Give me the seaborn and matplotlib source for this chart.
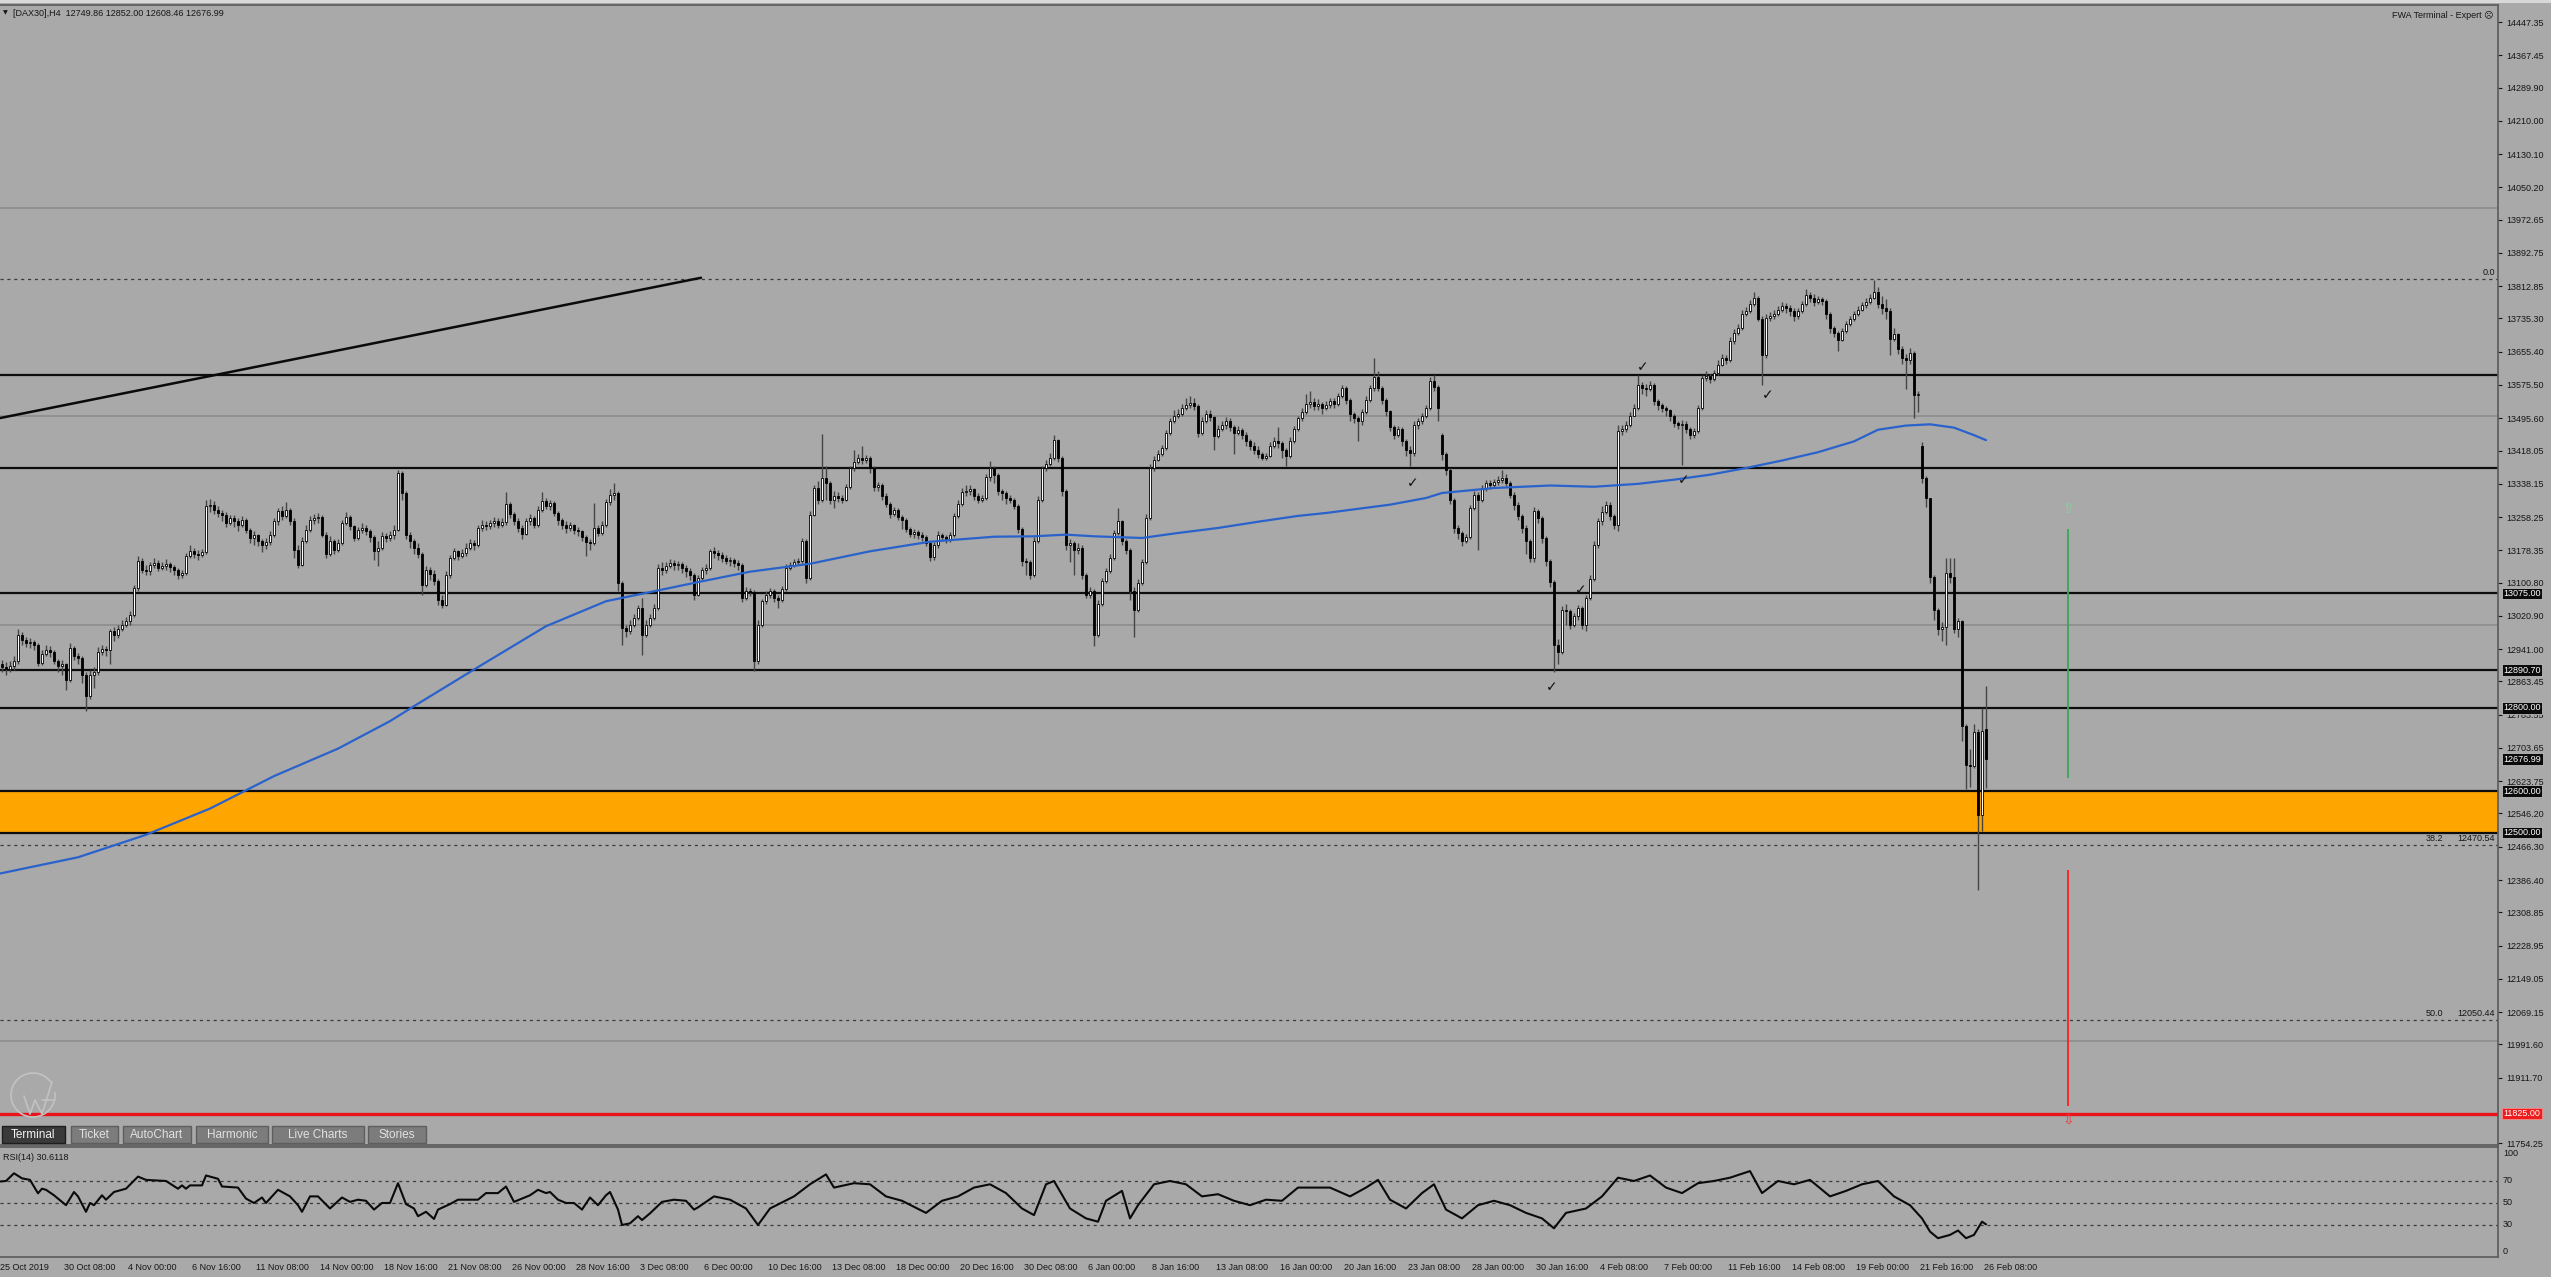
import numpy as np
import pandas as pd
import matplotlib
matplotlib.use("Agg")
import matplotlib.pyplot as plt
from matplotlib.patches import Rectangle, Arc
from matplotlib.lines import Line2D
from matplotlib.transforms import blended_transform_factory
import seaborn as sns

# ------------------------------------------------------------------ data
header_symbol = "[DAX30],H4"
header_ohlc = [12749.86, 12852.00, 12608.46, 12676.99]
rsi_current = 30.6118

first_open = 12895
gap_opens = {361: 13456, 481: 13428, 497: 12749.86}

closes = [
    12905,12898,12893,12900,12912,12975,12962,12955,12958,12950,
    12908,12930,12940,12935,12912,12900,12905,12868,12944,12925,
    12920,12880,12828,12880,12885,12935,12942,12938,12984,12976,
    12990,13000,13008,13024,13088,13152,13132,13128,13144,13148,
    13136,13140,13145,13138,13130,13120,13125,13165,13176,13170,
    13168,13175,13284,13288,13275,13268,13264,13244,13256,13248,
    13240,13252,13228,13208,13215,13200,13190,13198,13216,13248,
    13272,13260,13276,13248,13180,13144,13200,13228,13250,13256,
    13258,13216,13170,13200,13180,13195,13244,13258,13236,13208,
    13226,13232,13224,13210,13176,13185,13212,13208,13214,13228,
    13365,13317,13216,13200,13184,13170,13096,13130,13122,13104,
    13060,13048,13120,13160,13176,13165,13172,13184,13195,13190,
    13232,13240,13236,13244,13248,13240,13246,13290,13265,13248,
    13232,13218,13248,13256,13240,13276,13298,13285,13292,13268,
    13250,13240,13232,13238,13228,13224,13210,13198,13195,13232,
    13220,13240,13295,13312,13315,13100,12992,12985,13000,13016,
    13040,12976,13000,13016,13040,13136,13130,13140,13148,13142,
    13145,13136,13128,13120,13072,13112,13130,13136,13176,13172,
    13168,13160,13152,13155,13148,13144,13064,13080,13078,12912,
    13000,13056,13072,13080,13064,13058,13085,13136,13142,13150,
    13152,13200,13112,13264,13328,13300,13352,13340,13300,13310,
    13304,13300,13330,13375,13390,13400,13395,13400,13375,13330,
    13335,13310,13290,13265,13275,13258,13250,13230,13218,13222,
    13215,13211,13195,13162,13190,13215,13210,13205,13215,13260,
    13289,13318,13320,13325,13310,13300,13305,13355,13375,13360,
    13320,13315,13305,13300,13285,13230,13152,13150,13120,13200,
    13300,13375,13385,13400,13444,13400,13320,13192,13195,13180,
    13185,13120,13072,13080,12976,13050,13105,13128,13160,13220,
    13248,13200,13180,13080,13036,13100,13150,13257,13375,13395,
    13410,13425,13460,13489,13500,13505,13520,13528,13533,13525,
    13460,13490,13505,13498,13453,13470,13480,13488,13475,13460,
    13468,13455,13440,13430,13420,13410,13400,13405,13430,13440,
    13435,13420,13405,13440,13470,13495,13510,13529,13535,13525,
    13530,13520,13528,13536,13530,13550,13568,13540,13505,13496,
    13488,13510,13540,13568,13595,13568,13540,13512,13475,13456,
    13470,13440,13420,13412,13480,13488,13500,13520,13584,13570,
    13520,13410,13372,13300,13232,13220,13200,13210,13280,13312,
    13300,13328,13340,13335,13342,13348,13352,13340,13312,13288,
    13260,13232,13200,13160,13272,13255,13208,13152,13103,12951,
    12935,13036,13032,13000,13020,13040,13000,13064,13110,13192,
    13248,13270,13288,13260,13240,13464,13470,13480,13500,13520,
    13576,13568,13565,13576,13536,13528,13520,13515,13500,13485,
    13480,13482,13470,13456,13465,13520,13592,13598,13590,13605,
    13624,13640,13635,13680,13700,13712,13745,13752,13770,13784,
    13735,13648,13736,13740,13745,13755,13764,13760,13752,13740,
    13752,13770,13792,13785,13776,13782,13778,13745,13712,13700,
    13684,13705,13722,13735,13745,13755,13768,13776,13785,13800,
    13771,13760,13752,13687,13697,13662,13640,13635,13652,13552,
    13554,13353,13303,13114,13035,12990,12995,13125,13115,12990,
    13008,12756,12662,12660,12741,12542,12745,12676.99,
]

highs = [
    12920,12915,12910,12912,12925,12990,12982,12970,12968,12962,
    12955,12940,12950,12948,12940,12918,12915,12908,12956,12948,
    12932,12925,12885,12892,12898,12945,12950,12948,12990,12995,
    13000,13010,13018,13032,13095,13165,13160,13142,13150,13160,
    13155,13150,13158,13150,13142,13135,13132,13172,13190,13185,
    13178,13182,13300,13302,13298,13285,13275,13270,13262,13262,
    13255,13260,13256,13232,13225,13218,13205,13208,13225,13255,
    13280,13285,13295,13280,13255,13190,13210,13238,13260,13265,
    13268,13262,13222,13212,13205,13206,13250,13270,13262,13240,
    13234,13245,13240,13230,13215,13200,13222,13220,13225,13238,
    13372,13368,13322,13222,13205,13195,13175,13140,13138,13130,
    13110,13070,13128,13168,13185,13180,13182,13195,13205,13202,
    13240,13250,13248,13252,13258,13256,13255,13318,13295,13270,
    13255,13238,13255,13265,13260,13285,13318,13305,13300,13296,
    13272,13256,13248,13246,13242,13235,13228,13215,13206,13292,
    13240,13248,13302,13325,13340,13320,13105,13000,13010,13025,
    13048,13064,13012,13025,13050,13145,13150,13150,13158,13155,
    13152,13150,13142,13135,13125,13120,13138,13145,13182,13186,
    13180,13175,13166,13162,13160,13155,13148,13090,13088,13082,
    13010,13062,13080,13088,13085,13072,13092,13145,13150,13158,
    13160,13208,13205,13272,13335,13345,13457,13380,13345,13320,
    13318,13312,13338,13382,13420,13410,13430,13408,13405,13380,
    13342,13340,13315,13295,13282,13280,13262,13255,13235,13230,
    13226,13222,13215,13200,13198,13225,13220,13216,13222,13268,
    13300,13328,13335,13335,13328,13315,13312,13362,13392,13380,
    13365,13325,13320,13312,13305,13290,13235,13160,13155,13210,
    13308,13382,13395,13412,13455,13445,13405,13325,13205,13200,
    13195,13190,13125,13090,13085,13058,13112,13135,13170,13228,
    13280,13252,13205,13185,13090,13110,13158,13265,13385,13405,
    13420,13432,13468,13495,13515,13518,13530,13545,13548,13545,
    13530,13498,13515,13515,13502,13480,13490,13498,13495,13480,
    13478,13472,13462,13445,13438,13428,13415,13412,13438,13450,
    13475,13440,13425,13450,13478,13502,13520,13555,13560,13545,
    13542,13535,13538,13545,13545,13556,13575,13572,13545,13510,
    13500,13518,13548,13575,13640,13610,13572,13545,13515,13480,
    13478,13475,13445,13430,13488,13495,13508,13528,13595,13600,
    13575,13460,13415,13375,13305,13240,13225,13218,13288,13320,
    13318,13336,13348,13348,13350,13356,13372,13362,13345,13318,
    13295,13265,13240,13205,13282,13278,13260,13212,13158,13108,
    12965,13044,13050,13038,13028,13048,13045,13072,13118,13200,
    13256,13285,13298,13295,13265,13480,13480,13490,13510,13530,
    13600,13582,13578,13585,13580,13542,13532,13525,13518,13505,
    13490,13492,13488,13475,13472,13528,13600,13608,13602,13612,
    13635,13650,13648,13690,13710,13722,13755,13762,13780,13800,
    13790,13740,13745,13750,13755,13765,13775,13772,13768,13760,
    13760,13778,13805,13800,13795,13790,13788,13782,13750,13718,
    13705,13712,13730,13742,13752,13765,13776,13785,13795,13828,
    13812,13790,13782,13760,13712,13700,13668,13650,13665,13658,
    13562,13438,13356,13305,13118,13040,13005,13160,13160,13160,
    13015,13012,12760,12700,12760,12748,12800,12852.00,
]

lows = [
    12888,12885,12880,12886,12890,12905,12950,12945,12944,12938,
    12900,12902,12925,12922,12905,12885,12880,12844,12862,12915,
    12905,12860,12793,12820,12848,12878,12928,12925,12905,12960,
    12968,12985,12995,13000,13018,13080,13125,13118,13120,13135,
    13128,13130,13132,13126,13118,13110,13112,13120,13160,13160,
    13155,13162,13170,13270,13265,13258,13248,13235,13238,13235,
    13225,13235,13220,13196,13190,13188,13175,13182,13190,13210,
    13240,13250,13255,13240,13160,13136,13140,13195,13222,13242,
    13245,13210,13160,13165,13170,13175,13190,13238,13228,13200,
    13202,13220,13215,13198,13155,13140,13180,13198,13200,13205,
    13225,13300,13205,13185,13170,13160,13072,13090,13108,13095,
    13048,13040,13045,13112,13155,13155,13160,13165,13178,13180,
    13186,13225,13228,13230,13235,13232,13235,13240,13255,13240,
    13222,13205,13215,13240,13232,13235,13270,13278,13275,13260,
    13240,13230,13220,13225,13218,13212,13200,13165,13180,13190,
    13212,13215,13235,13288,13300,13080,12952,12970,12978,12995,
    13012,12928,12970,12995,13012,13035,13120,13125,13135,13132,
    13130,13125,13115,13108,13060,13068,13105,13122,13130,13160,
    13155,13150,13145,13140,13138,13130,13055,13060,13068,12888,
    12905,12995,13050,13065,13055,13040,13055,13080,13130,13138,
    13142,13148,13100,13108,13260,13290,13295,13300,13290,13280,
    13295,13292,13298,13325,13370,13385,13385,13388,13365,13322,
    13320,13300,13282,13255,13260,13250,13230,13222,13210,13208,
    13205,13200,13188,13152,13155,13185,13200,13195,13198,13210,
    13255,13285,13310,13312,13300,13292,13295,13300,13345,13340,
    13312,13300,13290,13292,13278,13220,13140,13120,13110,13115,
    13195,13295,13370,13382,13395,13390,13310,13180,13150,13120,
    13170,13110,13065,13065,12948,12970,13045,13100,13125,13155,
    13215,13190,13170,13060,12970,13030,13095,13145,13250,13370,
    13392,13405,13420,13455,13485,13495,13500,13515,13520,13515,
    13450,13455,13485,13488,13420,13448,13465,13470,13465,13410,
    13455,13445,13430,13420,13410,13400,13395,13395,13402,13425,
    13425,13400,13380,13400,13435,13465,13490,13505,13520,13515,
    13515,13505,13515,13520,13520,13525,13545,13530,13490,13485,
    13440,13480,13505,13535,13560,13560,13530,13500,13465,13445,
    13450,13430,13405,13380,13405,13470,13482,13495,13515,13560,
    13488,13395,13360,13290,13220,13205,13188,13195,13205,13275,
    13180,13295,13320,13325,13330,13335,13340,13332,13305,13275,
    13250,13220,13170,13150,13150,13245,13195,13140,13090,12887,
    12905,12930,13000,12990,12995,13010,12990,12985,13060,13105,
    13185,13240,13265,13250,13230,13225,13455,13462,13475,13500,
    13515,13555,13550,13560,13528,13515,13510,13500,13490,13475,
    13470,13384,13460,13445,13448,13460,13515,13585,13580,13585,
    13600,13620,13625,13630,13675,13695,13708,13740,13748,13765,
    13728,13576,13640,13728,13735,13740,13750,13748,13742,13730,
    13735,13748,13765,13775,13765,13770,13768,13735,13700,13690,
    13656,13680,13700,13718,13730,13740,13752,13760,13770,13782,
    13760,13745,13735,13647,13680,13650,13625,13567,13625,13497,
    13510,13340,13283,13100,13010,12975,12960,12950,13100,12980,
    12970,12720,12605,12610,12655,12363,12505,12608.46,
]

ma_bars = [0, 20, 37, 53, 69, 85, 98, 104, 119, 137, 152, 174, 188, 203, 218,
           233, 249, 259, 267, 274, 286, 295, 305, 315, 325, 332, 348, 357, 361,
           374, 388, 399, 410, 419, 428, 437, 446, 455, 464, 470, 477, 483, 489,
           494, 497]
ma_vals = [12401, 12441, 12495, 12558, 12636, 12702, 12768, 12804, 12892, 12996,
           13056, 13100, 13127, 13146, 13176, 13199, 13211, 13212, 13216, 13212,
           13208, 13220, 13232, 13247, 13261, 13268, 13288, 13304, 13316, 13328,
           13334, 13331, 13338, 13348, 13360, 13376, 13394, 13414, 13440, 13468,
           13478, 13481, 13473, 13455, 13443]

rsi_bars = [0, 2, 4, 6, 8, 10, 11, 12, 14, 17, 19, 20, 22, 23, 24, 26, 27, 29, 32,
            35, 37, 42, 45, 46, 47, 48, 51, 52, 55, 56, 60, 62, 64, 66, 67, 70, 73,
            75, 76, 78, 80, 83, 86, 88, 90, 92, 94, 96, 98, 100, 102, 104, 105, 107,
            109, 110, 113, 115, 120, 122, 125, 127, 129, 133, 135, 137, 138, 140,
            142, 144, 146, 148, 150, 152, 153, 155, 156, 158, 160, 161, 163, 166,
            169, 172, 174, 175, 179, 183, 187, 190, 193, 199, 203, 207, 209, 214,
            218, 222, 226, 232, 236, 240, 244, 248, 252, 256, 259, 262, 264, 268,
            272, 275, 277, 281, 283, 285, 289, 293, 297, 301, 305, 309, 313, 317,
            321, 325, 329, 333, 338, 342, 345, 348, 352, 356, 359, 362, 366, 370,
            374, 378, 382, 386, 389, 392, 397, 401, 405, 409, 413, 417, 421, 425,
            429, 433, 438, 441, 445, 449, 453, 458, 462, 466, 470, 474, 478, 481,
            483, 485, 488, 490, 492, 494, 496, 497]
rsi_vals = [69.4, 70, 77, 72.4, 71, 58.8, 63, 62, 57, 48, 60, 56, 42, 50, 48, 57,
            53, 60, 63, 74, 71, 70, 63, 66, 63, 66, 66, 75, 72, 65, 64, 54, 50, 55,
            50, 62, 56, 48, 42, 56, 56, 45, 55, 51, 53, 52, 44, 50, 50, 68, 49, 45,
            38, 42, 35.5, 44, 49, 53, 53, 59, 59, 65, 51, 57, 62, 59, 60, 53, 50,
            50, 44, 55, 48, 57, 60, 44, 30, 31.5, 38, 34.5, 40.6, 51, 53, 52, 44,
            46, 56, 53, 45, 30, 45, 56, 67, 76, 64, 68, 67, 56, 52, 41, 52, 56, 64,
            67, 59, 45, 39, 67, 70, 45, 36, 33, 52, 61, 36, 48, 67, 70, 67, 56, 58,
            52, 48, 53, 52, 64, 64, 64, 56, 64, 71, 53, 45, 59, 67, 44, 36, 48, 52,
            48, 41, 36, 27, 41, 45, 56, 73, 70, 75, 64, 59, 68, 70, 73, 79, 59, 70,
            67, 71, 56, 61, 67, 70, 56, 48, 36, 24, 18, 21, 25, 18, 21, 33, 30.61]

x_labels = ["25 Oct 2019", "30 Oct 08:00", "4 Nov 00:00", "6 Nov 16:00",
            "11 Nov 08:00", "14 Nov 00:00", "18 Nov 16:00", "21 Nov 08:00",
            "26 Nov 00:00", "28 Nov 16:00", "3 Dec 08:00", "6 Dec 00:00",
            "10 Dec 16:00", "13 Dec 08:00", "18 Dec 00:00", "20 Dec 16:00",
            "30 Dec 08:00", "6 Jan 00:00", "8 Jan 16:00", "13 Jan 08:00",
            "16 Jan 00:00", "20 Jan 16:00", "23 Jan 08:00", "28 Jan 00:00",
            "30 Jan 16:00", "4 Feb 08:00", "7 Feb 00:00", "11 Feb 16:00",
            "14 Feb 08:00", "19 Feb 00:00", "21 Feb 16:00", "26 Feb 08:00"]
bars_per_label = 16

price_ticks = [14447.35, 14367.45, 14289.90, 14210.00, 14130.10, 14050.20,
               13972.65, 13892.75, 13812.85, 13735.30, 13655.40, 13575.50,
               13495.60, 13418.05, 13338.15, 13258.25, 13178.35, 13100.80,
               13020.90, 12941.00, 12863.45, 12783.55, 12703.65, 12623.75,
               12546.20, 12466.30, 12386.40, 12308.85, 12228.95, 12149.05,
               12069.15, 11991.60, 11911.70, 11754.25]

black_levels = [13600, 13375, 13075, 12890.70, 12800, 12600, 12500]
round_levels = [14000, 13500, 13000, 12000]
zone_low, zone_high = 12500, 12600
red_level = 11825.00
boxed_levels = [13075.00, 12890.70, 12800.00, 12676.99, 12600.00, 12500.00]
fib_names = ["0.0", "38.2", "50.0"]
fib_prices = [13830.52, 12470.54, 12050.44]
fib_show_price = [False, True, True]

trend_x = [0.5, 175.75]
trend_y = [13496, 13833]

check_x = [353.75, 411.25, 442.5, 421.5, 388.5, 395.75]
check_y = [13340, 13619, 13551, 13347, 12850, 13083]

target_bar = 517.5
green_span = [12631, 13229]
green_arrow_y = 13277
red_span = [11844, 12410]
red_arrow_y = 11812

rsi_levels = [70, 50, 30]
rsi_axis_labels = ["100", "70", "50", "30", "0"]

tabs = ["Terminal", "Ticket", "AutoChart", "Harmonic", "Live Charts", "Stories"]

# ------------------------------------------------------------------ style
sns.set_style("white")
plt.rcParams["font.family"] = ["Liberation Sans", "DejaVu Sans"]
BG = "#a9a9a9"
FRAME = "#5a5a5a"
TXT = "#161616"

W, H = 2551, 1277
fig = plt.figure(figsize=(W / 100, H / 100), dpi=100)
fig.patch.set_facecolor(BG)


def fx(px):
    return px / W


def fy(py):
    return 1 - py / H


ax = fig.add_axes([0, fy(1145), fx(2498), (1145 - 5) / H])
rax = fig.add_axes([0, fy(1257), fx(2498), (1257 - 1147) / H])
XL = (0.5, 625.0)

for a in (ax, rax):
    a.set_facecolor(BG)
    a.set_xlim(*XL)
    a.grid(False)
    a.spines["left"].set_visible(False)
    for s in ("top", "right", "bottom"):
        a.spines[s].set_color(FRAME)
        a.spines[s].set_linewidth(1.2)

ax.set_ylim(11749.9, 14488.2)

# ---------------------------------------------------------- levels / zones
for lv in round_levels:
    ax.axhline(lv, color="#8a8a8a", lw=1.1, zorder=1)
ax.axhspan(zone_low, zone_high, color="#ffa500", zorder=1.5, lw=0)
for lv in black_levels:
    ax.axhline(lv, color="#0d0d0d", lw=1.6, zorder=2)
ax.axhline(red_level, color="#e8141c", lw=2.4, zorder=2)
for name, lv, showp in zip(fib_names, fib_prices, fib_show_price):
    ax.axhline(lv, color="#3a3a3a", lw=0.9, ls=(0, (2.5, 3)), zorder=2)
    ax.text(624.3, lv + 5, f"{lv:.2f}" if showp else name, ha="right", va="bottom",
            fontsize=6.5, color=TXT, zorder=5)
    if showp:
        ax.text(607.0, lv + 5, name, ha="left", va="bottom", fontsize=6.5,
                color=TXT, zorder=5)

sns.lineplot(x=trend_x, y=trend_y, ax=ax, color="#0a0a0a", lw=1.8, zorder=2)

# ---------------------------------------------------------------- candles
n = len(closes)
bars = np.arange(n)
opens = [first_open] + list(closes[:-1])
for k, v in gap_opens.items():
    opens[k] = v
o = np.array(opens, float)
c = np.array(closes, float)
hi = np.maximum(np.array(highs, float), np.maximum(o, c))
lo = np.minimum(np.array(lows, float), np.minimum(o, c))
up = c >= o
ax.vlines(bars, lo, hi, color="#454545", lw=1.0, zorder=3)
bottom = np.minimum(o, c)
height = np.maximum(np.abs(c - o), 2.5)
ax.bar(bars[up], height[up], bottom=bottom[up], width=0.72, color="white",
       edgecolor="black", linewidth=0.6, zorder=4)
ax.bar(bars[~up], height[~up], bottom=bottom[~up], width=0.72, color="black",
       edgecolor="black", linewidth=0.6, zorder=4)

ma_df = pd.DataFrame({"bar": ma_bars, "ma": ma_vals})
sns.lineplot(data=ma_df, x="bar", y="ma", ax=ax, color="#2a62cc", lw=1.6,
             zorder=5, estimator=None)

for xx, yy in zip(check_x, check_y):
    ax.text(xx, yy, "✓", ha="center", va="center", fontsize=10, color="#111111",
            family=["DejaVu Sans"], zorder=6)

# targets
ax.vlines(target_bar, green_span[0], green_span[1], color="#3aa757", lw=1.3, zorder=5)
ax.text(target_bar, green_arrow_y, "⇧", ha="center", va="center", fontsize=10,
        color="#7dd89a", family=["DejaVu Sans"], zorder=6)
ax.vlines(target_bar, red_span[0], red_span[1], color="#ff2020", lw=1.3, zorder=5)
ax.text(target_bar, red_arrow_y, "⇩", ha="center", va="center", fontsize=10,
        color="#ff3030", family=["DejaVu Sans"], zorder=6)

# --------------------------------------------------------- right price axis
ax.set_xticks([])
ax.yaxis.tick_right()
ax.set_yticks(price_ticks)
ax.set_yticklabels([f"{t:.2f}" for t in price_ticks])
ax.tick_params(axis="y", length=3, width=0.8, pad=3, labelsize=6.5,
               colors=TXT, direction="out")
ax.set_xlabel("")
ax.set_ylabel("")

tr = blended_transform_factory(ax.transAxes, ax.transData)
for lv in boxed_levels:
    ax.text(1.0022, lv, f"{lv:.2f}", transform=tr, ha="left", va="center",
            fontsize=6.5, color="white", clip_on=False, zorder=10,
            bbox=dict(boxstyle="square,pad=0.14", fc="#0b0b0b", ec="#d0d0d0", lw=0.5))
ax.text(1.0022, red_level, f"{red_level:.2f}", transform=tr, ha="left", va="center",
        fontsize=6.5, color="white", clip_on=False, zorder=10,
        bbox=dict(boxstyle="square,pad=0.14", fc="#ee1c1c", ec="#ff9090", lw=0.5))

# ---------------------------------------------------------------- RSI panel
rax.set_ylim(0.9, 100.9)
for lv in rsi_levels:
    rax.axhline(lv, color="#3a3a3a", lw=0.9, ls=(0, (2.5, 3)), zorder=1)
rsi_df = pd.DataFrame({"bar": rsi_bars, "rsi": rsi_vals})
sns.lineplot(data=rsi_df, x="bar", y="rsi", ax=rax, color="#0a0a0a", lw=1.5,
             estimator=None, zorder=3)
rax.set_yticks([])
rax.set_xlabel("")
rax.set_ylabel("")
rtr = blended_transform_factory(rax.transAxes, rax.transData)
rax.text(1.002, 99.5, rsi_axis_labels[0], transform=rtr, ha="left", va="top",
         fontsize=6.5, color=TXT, clip_on=False)
for lab, lv in zip(rsi_axis_labels[1:4], rsi_levels):
    rax.text(1.002, lv, lab, transform=rtr, ha="left", va="center", fontsize=6.5,
             color=TXT, clip_on=False)
rax.text(1.002, 2.0, rsi_axis_labels[4], transform=rtr, ha="left", va="bottom",
         fontsize=6.5, color=TXT, clip_on=False)

tick_pos = [k * bars_per_label for k in range(len(x_labels))]
rax.set_xticks([t for t in tick_pos if t >= XL[0]])
rax.set_xticklabels([])
rax.tick_params(axis="x", length=4, width=0.8, colors=FRAME, direction="out")
xtr = blended_transform_factory(rax.transData, rax.transAxes)
for t, lab in zip(tick_pos, x_labels):
    rax.text(t + 0.4, -0.055, lab, transform=xtr, ha="left", va="top",
             fontsize=6.5, color=TXT, clip_on=False)

# ------------------------------------------------------------ chrome / text
fig.patches.append(Rectangle((0, fy(3)), 1, 3 / H, transform=fig.transFigure,
                             fc="#d8d8d8", ec="none", zorder=0.5))
fig.text(fx(3), fy(13), "▼", fontsize=4.5, color=TXT, va="center", ha="left",
         family=["DejaVu Sans"])
fig.text(fx(13), fy(13),
         f"{header_symbol}  " + " ".join(f"{v:.2f}" for v in header_ohlc),
         fontsize=6.5, color=TXT, va="center", ha="left")
fig.text(fx(2494), fy(15), "FWA Terminal - Expert ☹", fontsize=6.5, color=TXT,
         va="center", ha="right", family=["Liberation Sans", "DejaVu Sans"])
fig.text(fx(3), fy(1158), f"RSI(14) {rsi_current:.4f}", fontsize=6.5, color=TXT,
         va="center", ha="left")

# faint watermark logo (bottom-left of the price panel)
LOGO = "#c2c2c2"
fig.patches.append(Arc((fx(33), fy(1095)), 44 / W, 44 / H, theta1=55, theta2=15,
                       transform=fig.transFigure, color=LOGO, lw=1.2, zorder=0.8))
fig.lines.append(Line2D([fx(24), fx(30), fx(35), fx(42), fx(52)],
                        [fy(1096), fy(1114), fy(1100), fy(1114), fy(1082)],
                        transform=fig.transFigure, color=LOGO, lw=1.2, zorder=0.8))
fig.lines.append(Line2D([fx(42), fx(55)], [fy(1100), fy(1100)],
                        transform=fig.transFigure, color=LOGO, lw=1.2, zorder=0.8))

tab_x = [(2, 65), (71, 118), (123, 191), (196, 268), (272, 364), (368, 426)]
for i, (lab, (x0, x1)) in enumerate(zip(tabs, tab_x)):
    active = i == 0
    fig.patches.append(Rectangle((fx(x0), fy(1143)), fx(x1 - x0), 17 / H,
                                 transform=fig.transFigure,
                                 fc="#3a3a3a" if active else "#7c7c7c",
                                 ec="#1e1e1e" if active else "#5e5e5e",
                                 lw=1.0, zorder=5))
    fig.text(fx((x0 + x1) / 2), fy(1134.5), lab, fontsize=8.5,
             color="#f2f2f2" if active else "#e2e2e2", ha="center", va="center",
             zorder=6)

fig.savefig("out.png", dpi=100, facecolor=BG)
